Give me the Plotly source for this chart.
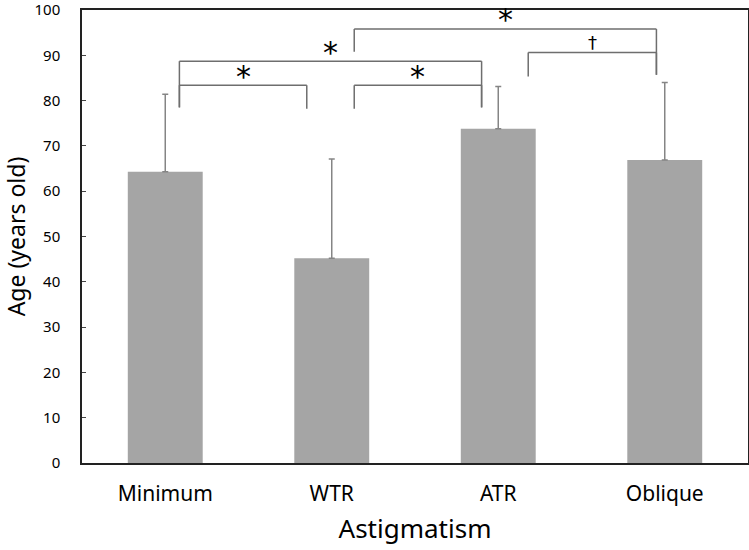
import plotly.graph_objects as go

categories = ["Minimum", "WTR", "ATR", "Oblique"]
means = [64.3, 45.2, 73.8, 66.9]
sd_plus = [17.1, 21.9, 9.3, 17.1]
y_ticks = [0, 10, 20, 30, 40, 50, 60, 70, 80, 90, 100]

# significance brackets: (x_left, x_right, y_bar, y_left_end, y_right_end, label, label_y)
brackets = [
    (0.085, 0.85, 83.4, 78.5, 78.2, "*", 85.4),
    (1.135, 1.90, 83.4, 78.2, 78.5, "*", 85.4),
    (0.085, 1.90, 88.7, 78.5, 78.5, "*", 90.7),
    (2.18, 2.95, 90.6, 85.3, 85.7, "†", 92.8),
    (1.135, 2.95, 95.8, 90.8, 85.7, "*", 97.8),
]

x_pos = list(range(len(categories)))

fig = go.Figure()
fig.add_trace(go.Bar(
    x=x_pos, y=means, width=0.45,
    marker=dict(color="#a5a5a5", line=dict(width=0)),
    error_y=dict(type="data", symmetric=False, array=sd_plus, arrayminus=[0]*4,
                 color="#858585", thickness=1.5, width=3),
))

line_col = "#6e6e6e"
for xl, xr, yb, yl, yr, lab, ly in brackets:
    fig.add_shape(type="line", x0=xl, x1=xr, y0=yb, y1=yb, xref="x", yref="y",
                  line=dict(color=line_col, width=1.5))
    fig.add_shape(type="line", x0=xl, x1=xl, y0=yb, y1=yl, xref="x", yref="y",
                  line=dict(color=line_col, width=1.5))
    fig.add_shape(type="line", x0=xr, x1=xr, y0=yb, y1=yr, xref="x", yref="y",
                  line=dict(color=line_col, width=1.5))
    fig.add_annotation(x=(xl + xr) / 2, y=ly, text=lab, showarrow=False,
                       xref="x", yref="y", yanchor="middle",
                       font=dict(size=30 if lab == "*" else 18, color="black",
                                 family="DejaVu Sans"))

fig.update_layout(
    width=749, height=550,
    margin=dict(l=82, r=1, t=10, b=87),
    plot_bgcolor="white", paper_bgcolor="white",
    showlegend=False,
    font=dict(family="Noto Sans, Open Sans, sans-serif", color="black"),
    xaxis=dict(range=[-0.5, 3.5], tickvals=x_pos, ticktext=categories,
               automargin=False,
               showgrid=False, zeroline=False, ticks="",
               showline=True, linecolor="#222", linewidth=1.5, mirror=True,
               tickfont=dict(size=21), ticklabelstandoff=11,
               title=dict(text="Astigmatism", font=dict(size=26), standoff=14)),
    yaxis=dict(range=[0, 100], tickvals=y_ticks, showgrid=False, zeroline=False,
               automargin=False, ticklabeloverflow="allow",
               ticks="inside", ticklen=4, tickcolor="#444",
               showline=True, linecolor="#222", linewidth=1.5, mirror=True,
               tickfont=dict(size=15), ticklabelstandoff=17,
               title=dict(text="Age (years old)", font=dict(size=23), standoff=4)),
)

fig.write_html("out.html", config={"displayModeBar": False},
               post_script="document.body.style.margin='0';")
